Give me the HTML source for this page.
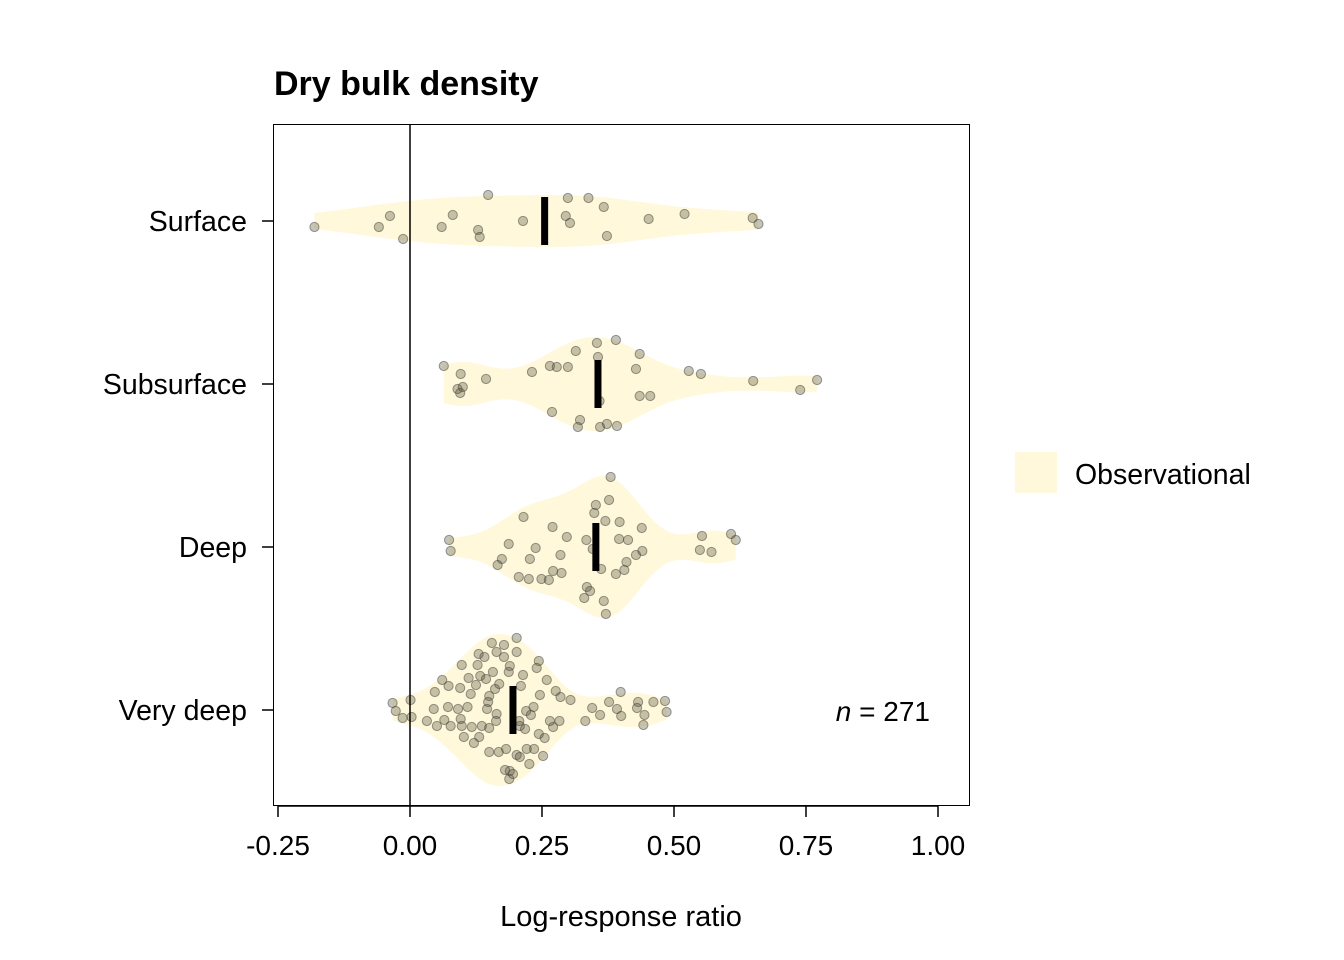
<!DOCTYPE html>
<html><head><meta charset="utf-8">
<style>
html,body{margin:0;padding:0;background:#fff;}
svg{display:block;font-family:"Liberation Sans",Arial,sans-serif;}
</style></head>
<body>
<svg id="chart" width="1344" height="960" viewBox="0 0 1344 960" xmlns="http://www.w3.org/2000/svg">
<rect x="0" y="0" width="1344" height="960" fill="#fff"/>
<text x="274" y="95" font-size="34" font-weight="bold" fill="#000">Dry bulk density</text>
<g id="violins"></g>
<g id="points"></g>
<g id="medians"></g>
<line x1="410" y1="124" x2="410" y2="806" stroke="#000" stroke-width="1.5"/>
<rect x="273.5" y="124.5" width="696" height="681" fill="none" stroke="#000" stroke-width="1"/>
<g id="xaxis"></g>
<g id="yaxis"></g>
<text x="621" y="926" font-size="29" text-anchor="middle">Log-response ratio</text>
<text x="930" y="721" font-size="28" text-anchor="end"><tspan font-style="italic">n</tspan> = 271</text>
<rect x="1015" y="452" width="42" height="41" fill="#FFF8DB"/>
<text x="1075" y="484" font-size="28.5">Observational</text>
</svg>
<script>
const categories = ["Surface","Subsurface","Deep","Very deep"];
const xTicks = [-0.25,0,0.25,0.5,0.75,1.0];
const xTickLabels = ["-0.25","0.00","0.25","0.50","0.75","1.00"];
const medians = [0.255,0.356,0.352,0.195];
const surfaceVals = [-0.181,-0.059,-0.038,-0.013,0.060,0.081,0.129,0.132,0.148,0.214,0.295,0.303,0.299,0.338,0.367,0.373,0.452,0.520,0.649,0.660];
const surfaceJit = [6,6,-5,18,6,-6,9,16,-26,0,-5,2,-23,-23,-14,15,-2,-7,-3,3];
const subsurfaceVals = [0.064,0.096,0.090,0.100,0.095,0.144,0.231,0.265,0.278,0.299,0.314,0.354,0.356,0.359,0.390,0.435,0.428,0.435,0.455,0.528,0.551,0.650,0.269,0.322,0.318,0.360,0.373,0.392,0.739,0.771];
const subsurfaceJit = [-18,-10,5,3,9,-5,-12,-18,-17,-17,-33,-41,-27,17,-44,-30,-15,12,12,-13,-10,-3,28,36,43,43,40,42,6,-4];
const deepVals = [0.380,0.352,0.377,0.349,0.370,0.215,0.270,0.297,0.334,0.397,0.439,0.396,0.413,0.346,0.440,0.428,0.362,0.410,0.406,0.390,0.074,0.077,0.187,0.238,0.285,0.227,0.174,0.166,0.206,0.225,0.249,0.263,0.271,0.287,0.335,0.341,0.330,0.367,0.371,0.553,0.608,0.617,0.549,0.571];
const deepJit = [-70,-42,-47,-34,-26,-30,-20,-10,-7,-25,-19,-8,-7,2,4,8,22,15,23,27,-7,4,-3,1,8,12,12,18,30,32,32,33,24,26,40,44,51,54,67,-11,-13,-7,3,5];
const veryDeepVals = [0.202,0.155,0.178,0.164,0.202,0.130,0.141,0.178,0.098,0.128,0.189,0.244,0.240,0.157,0.187,0.214,0.133,0.111,0.144,0.061,0.073,0.095,0.169,0.210,0.259,0.125,0.047,0.115,0.161,0.150,0.246,0.276,0.285,0.304,0.399,0.001,-0.033,-0.027,-0.014,0.003,0.045,0.072,0.091,0.109,0.146,0.164,0.148,0.234,0.220,0.229,0.345,0.360,0.377,0.392,0.400,0.432,0.430,0.444,0.442,0.461,0.483,0.486,0.332,0.032,0.051,0.065,0.077,0.098,0.117,0.096,0.136,0.150,0.163,0.208,0.207,0.218,0.244,0.255,0.271,0.283,0.265,0.131,0.102,0.121,0.150,0.168,0.182,0.235,0.221,0.252,0.202,0.208,0.226,0.189,0.180,0.195,0.188];
const veryDeepJit = [-72,-67,-65,-58,-58,-56,-53,-53,-45,-45,-44,-49,-42,-38,-38,-35,-34,-32,-31,-30,-24,-22,-26,-24,-30,-25,-18,-16,-21,-14,-15,-19,-13,-10,-18,-10,-7,1,8,7,-1,-3,-1,-3,-1,4,-8,-3,1,5,-2,5,-8,-1,6,-8,-2,5,15,-8,-9,2,11,11,16,10,16,16,17,9,16,18,11,16,11,19,24,28,17,11,11,27,27,33,42,42,39,39,39,46,45,47,54,61,60,64,69,63];
const groupVals = [surfaceVals, subsurfaceVals, deepVals, veryDeepVals];
const groupJit = [surfaceJit, subsurfaceJit, deepJit, veryDeepJit];
const violinHalfMax = [26, 47, 71, 76];

const NS = "http://www.w3.org/2000/svg";
const X0 = 410, XS = 528;
function xScale(v){ return X0 + v*XS; }
function yScale(i){ return 221 + i*163; }
function mk(tag, attrs, parent){
  const e = document.createElementNS(NS, tag);
  for (const k in attrs) e.setAttribute(k, attrs[k]);
  parent.appendChild(e); return e;
}
const gV = document.getElementById("violins"), gP = document.getElementById("points"),
      gM = document.getElementById("medians"), gX = document.getElementById("xaxis"), gY = document.getElementById("yaxis");

function kde(vals){
  const n = vals.length;
  const mean = vals.reduce((a,b)=>a+b,0)/n;
  const sd = Math.sqrt(vals.reduce((a,b)=>a+(b-mean)*(b-mean),0)/(n-1));
  const s = vals.slice().sort((a,b)=>a-b);
  const iqr = s[Math.floor(0.75*(n-1))]-s[Math.floor(0.25*(n-1))];
  const bw = 0.9*Math.min(sd, iqr/1.34)*Math.pow(n,-0.2);
  const lo = s[0], hi = s[n-1], pts = [];
  for (let k=0;k<=100;k++){
    const x = lo + (hi-lo)*k/100; let d = 0;
    for (const v of vals){ const z=(x-v)/bw; d += Math.exp(-0.5*z*z); }
    pts.push([x,d]);
  }
  const m = Math.max(...pts.map(p=>p[1]));
  return pts.map(p=>[p[0],p[1]/m]);
}

categories.forEach((c,i)=>{
  const cy = yScale(i);
  const dens = kde(groupVals[i]);
  const h = violinHalfMax[i];
  let d = "M" + dens.map(p=>xScale(p[0]).toFixed(1)+","+(cy-p[1]*h).toFixed(1)).join(" L");
  d += " L" + dens.slice().reverse().map(p=>xScale(p[0]).toFixed(1)+","+(cy+p[1]*h).toFixed(1)).join(" L") + " Z";
  const v = mk("path",{d:d, fill:"#FFF8DB"}, gV);
  
  
  groupVals[i].forEach((val,j)=>{
    const p = mk("circle",{cx:xScale(val), cy:cy+groupJit[i][j], r:4.6, fill:"rgba(90,85,60,0.35)", stroke:"rgba(60,60,60,0.5)", "stroke-width":1}, gP);
    
    
  });
  const m = mk("rect",{x:xScale(medians[i])-3.5, y:cy-24, width:7, height:48, fill:"#000"}, gM);
  
  
  const t = mk("line",{x1:262, x2:273, y1:cy, y2:cy, stroke:"#000", "stroke-width":1.5}, gY);
  
  
  const l = mk("text",{x:247, y:cy+10, "font-size":28.5, "text-anchor":"end"}, gY);
  l.textContent = c;
  
  
});
xTicks.forEach((v,i)=>{
  const x = xScale(v);
  const t = mk("line",{x1:x, x2:x, y1:806, y2:817, stroke:"#000", "stroke-width":1.5}, gX);
  
  
  const l = mk("text",{x:x, y:855, "font-size":28, "text-anchor":"middle"}, gX);
  l.textContent = xTickLabels[i];
  
  
});
const ax = mk("line",{x1:xScale(xTicks[0]), x2:xScale(xTicks[xTicks.length-1]), y1:806, y2:806, stroke:"#000", "stroke-width":1.5}, gX);


</script>
</body></html>
